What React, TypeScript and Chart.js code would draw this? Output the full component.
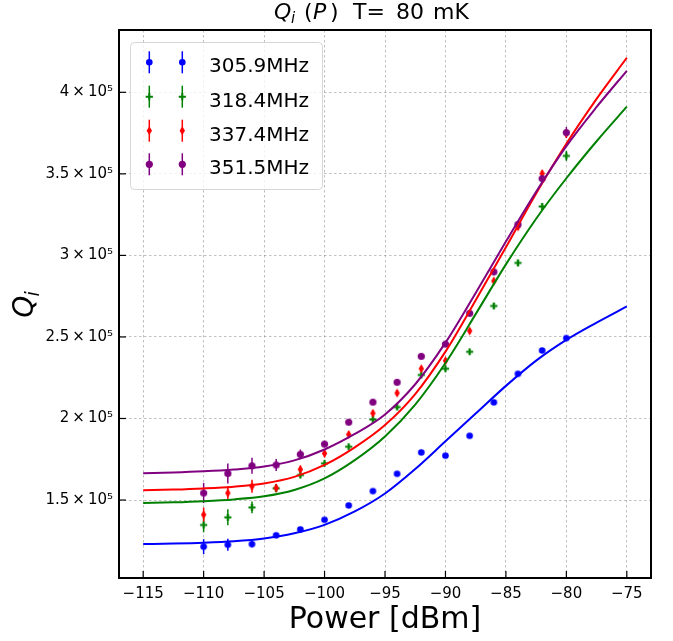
import React, { useEffect, useRef } from "react";
import { Chart, registerables } from "chart.js";

Chart.register(...registerables);

// ---------- data ----------
const powers = [-110, -108, -106, -104, -102, -100, -98, -96, -94, -92, -90, -88, -86, -84, -82, -80];

const seriesLabels = ["305.9MHz", "318.4MHz", "337.4MHz", "351.5MHz"];

const q305 = [121400, 122600, 123000, 128400, 132000, 137900, 146700, 155500, 166100, 179200, 177200, 189400, 209900, 227400, 241700, 249300];
const e305 = [4600, 3700, 2000, 1200, 1000, 900, 900, 900, 900, 900, 900, 900, 900, 900, 900, 900];

const q318 = [134700, 139400, 145500, 157200, 165300, 172500, 182700, 199400, 207000, 226700, 230500, 240900, 269000, 295400, 330000, 361000];
const e318 = [4400, 4900, 3600, 2400, 1800, 1800, 1500, 1500, 1500, 1500, 1500, 1500, 1800, 2000, 2000, 3000];

const q337 = [141000, 154300, 158400, 157400, 168800, 178600, 190200, 203200, 215600, 230500, 235400, 253700, 284300, 317500, 350200, 374800];
const e337 = [4400, 4300, 4000, 2400, 2400, 2400, 1800, 1800, 1800, 1800, 1800, 1800, 2000, 2000, 2000, 2500];

const q351 = [154300, 166300, 171000, 171500, 178000, 184300, 197700, 210000, 222200, 238100, 245600, 264500, 289900, 319000, 347100, 375300];
const e351 = [6100, 6100, 4900, 3700, 3000, 2000, 1800, 1800, 1800, 1800, 1800, 1800, 2000, 2000, 2500, 3400];

const fitPowers = [-115, -112.5, -110, -107.5, -105, -102.5, -100, -97.5, -95, -92.5, -90, -87.5, -85, -82.5, -80, -77.5, -75];
const fit305 = [123000, 123300, 123800, 124700, 126400, 129600, 134800, 143000, 154000, 169000, 186000, 203000, 220000, 235500, 248200, 258800, 268700];
const fit318 = [148200, 148600, 149300, 150400, 152300, 156200, 163300, 174500, 189000, 208500, 234000, 264000, 294500, 322500, 347300, 370000, 391200];
const fit337 = [156000, 156400, 157100, 158200, 160200, 164200, 171500, 182300, 196000, 215000, 241000, 272500, 305000, 338000, 368500, 396000, 421200];
const fit351 = [166500, 166900, 167600, 168700, 170500, 174300, 181000, 190500, 202500, 221000, 246500, 277000, 308500, 339000, 367000, 391000, 413200];

const xTickValues = [-115, -110, -105, -100, -95, -90, -85, -80, -75];
const xTickLabels = ["\u2212115", "\u2212110", "\u2212105", "\u2212100", "\u221295", "\u221290", "\u221285", "\u221280", "\u221275"];
const yTickValues = [150000, 200000, 250000, 300000, 350000, 400000];
const yTickLabels = [
  "1.5\u2009\u00d7\u200910\u2075",
  "2\u2009\u00d7\u200910\u2075",
  "2.5\u2009\u00d7\u200910\u2075",
  "3\u2009\u00d7\u200910\u2075",
  "3.5\u2009\u00d7\u200910\u2075",
  "4\u2009\u00d7\u200910\u2075",
];

const xLabel = "Power [dBm]";
const titleParts = [
  { text: "Q", italic: true, sub: false, x: 274 },
  { text: "i", italic: true, sub: true, x: 291 },
  { text: "(", italic: false, sub: false, x: 304 },
  { text: "P", italic: true, sub: false, x: 313 },
  { text: ")", italic: false, sub: false, x: 330 },
  { text: "T=", italic: false, sub: false, x: 353 },
  { text: "80", italic: false, sub: false, x: 396 },
  { text: "mK", italic: false, sub: false, x: 433 },
];

const colors = ["#0000ff", "#008000", "#ff0000", "#800080"];
const markerKinds = ["circle", "plus", "thinDiamond", "bigCircle"];
const seriesValues = [q305, q318, q337, q351];
const seriesErrors = [e305, e318, e337, e351];
const fitValues = [fit305, fit318, fit337, fit351];

const FONT = "'DejaVu Sans', sans-serif";

function drawMarker(ctx: CanvasRenderingContext2D, kind: string, x: number, y: number, color: string) {
  ctx.save();
  ctx.fillStyle = color;
  ctx.strokeStyle = color;
  if (kind === "circle" || kind === "bigCircle") {
    ctx.beginPath();
    ctx.arc(x, y, kind === "circle" ? 3.3 : 3.6, 0, Math.PI * 2);
    ctx.fill();
  } else if (kind === "plus") {
    ctx.lineWidth = 2;
    ctx.beginPath();
    ctx.moveTo(x - 3.6, y);
    ctx.lineTo(x + 3.6, y);
    ctx.moveTo(x, y - 3.6);
    ctx.lineTo(x, y + 3.6);
    ctx.stroke();
  } else if (kind === "thinDiamond") {
    ctx.beginPath();
    ctx.moveTo(x, y - 4.4);
    ctx.lineTo(x + 2.7, y);
    ctx.lineTo(x, y + 4.4);
    ctx.lineTo(x - 2.7, y);
    ctx.closePath();
    ctx.fill();
  }
  ctx.restore();
}

function markerCanvas(kind: string, color: string) {
  const c = document.createElement("canvas");
  c.width = 13;
  c.height = 13;
  const cx = c.getContext("2d");
  if (cx) drawMarker(cx, kind, 6.5, 6.5, color);
  return c;
}

const errorBarPlugin = {
  id: "errorBars",
  beforeDatasetsDraw(chart: any) {
    const { ctx, chartArea, scales } = chart;
    const xs = scales.x;
    const ys = scales.y;
    ctx.save();
    ctx.beginPath();
    ctx.rect(chartArea.left, chartArea.top, chartArea.right - chartArea.left, chartArea.bottom - chartArea.top);
    ctx.clip();
    ctx.lineWidth = 1.5;
    seriesValues.forEach((vals, s) => {
      ctx.strokeStyle = colors[s];
      vals.forEach((v, i) => {
        const px = xs.getPixelForValue(powers[i]);
        const y1 = ys.getPixelForValue(v - seriesErrors[s][i]);
        const y2 = ys.getPixelForValue(v + seriesErrors[s][i]);
        ctx.beginPath();
        ctx.moveTo(px, y1);
        ctx.lineTo(px, y2);
        ctx.stroke();
      });
    });
    ctx.restore();
  },
};

const decorPlugin = {
  id: "decor",
  afterDatasetsDraw(chart: any) {
    const { ctx } = chart;
    // legend
    const bx = 130.5, by = 42.5, bw = 192, bh = 147, r = 4;
    ctx.save();
    ctx.beginPath();
    ctx.moveTo(bx + r, by);
    ctx.lineTo(bx + bw - r, by);
    ctx.quadraticCurveTo(bx + bw, by, bx + bw, by + r);
    ctx.lineTo(bx + bw, by + bh - r);
    ctx.quadraticCurveTo(bx + bw, by + bh, bx + bw - r, by + bh);
    ctx.lineTo(bx + r, by + bh);
    ctx.quadraticCurveTo(bx, by + bh, bx, by + bh - r);
    ctx.lineTo(bx, by + r);
    ctx.quadraticCurveTo(bx, by, bx + r, by);
    ctx.closePath();
    ctx.fillStyle = "rgba(255,255,255,0.8)";
    ctx.fill();
    ctx.strokeStyle = "#d6d6d6";
    ctx.lineWidth = 1;
    ctx.stroke();
    const rows = [62.3, 96.7, 130.7, 164.3];
    seriesLabels.forEach((lab, s) => {
      const ry = rows[s];
      [149.3, 182.3].forEach((mx) => {
        ctx.strokeStyle = colors[s];
        ctx.lineWidth = 1.5;
        ctx.beginPath();
        ctx.moveTo(mx, ry - 11);
        ctx.lineTo(mx, ry + 11);
        ctx.stroke();
        drawMarker(ctx, markerKinds[s], mx, ry, colors[s]);
      });
      ctx.fillStyle = "#000";
      ctx.font = `20px ${FONT}`;
      ctx.textAlign = "left";
      ctx.textBaseline = "alphabetic";
      ctx.fillText(lab, 209, ry + 10);
    });
    ctx.restore();
  },
  afterDraw(chart: any) {
    const { ctx, chartArea, scales } = chart;
    const { left, right, top, bottom } = chartArea;
    ctx.save();
    // inward ticks
    ctx.strokeStyle = "#000";
    ctx.lineWidth = 1.2;
    xTickValues.forEach((v) => {
      const px = scales.x.getPixelForValue(v);
      ctx.beginPath();
      ctx.moveTo(px, bottom);
      ctx.lineTo(px, bottom - 7);
      ctx.stroke();
    });
    yTickValues.forEach((v) => {
      const py = scales.y.getPixelForValue(v);
      ctx.beginPath();
      ctx.moveTo(left, py);
      ctx.lineTo(left + 7, py);
      ctx.stroke();
    });
    // frame
    ctx.lineWidth = 2;
    ctx.strokeRect(left, top, right - left, bottom - top);

    // title
    ctx.fillStyle = "#000";
    ctx.textAlign = "left";
    ctx.textBaseline = "alphabetic";
    titleParts.forEach((p) => {
      ctx.font = `${p.italic ? "italic " : ""}${p.sub ? 15 : 22}px ${FONT}`;
      ctx.fillText(p.text, p.x, p.sub ? 23 : 19);
    });

    // x label
    ctx.font = `30px ${FONT}`;
    ctx.textAlign = "center";
    ctx.fillText(xLabel, (left + right) / 2, 628);

    // y label (rotated)
    ctx.save();
    ctx.translate(33, (top + bottom) / 2);
    ctx.rotate(-Math.PI / 2);
    ctx.textAlign = "left";
    ctx.font = `italic 28px ${FONT}`;
    const qw = ctx.measureText("Q").width;
    ctx.font = `italic 19px ${FONT}`;
    const iw = ctx.measureText("i").width;
    const start = -(qw + iw) / 2;
    ctx.font = `italic 28px ${FONT}`;
    ctx.fillText("Q", start, 0);
    ctx.font = `italic 19px ${FONT}`;
    ctx.fillText("i", start + qw - 1, 6);
    ctx.restore();
    ctx.restore();
  },
};

export default function App() {
  const canvasRef = useRef<HTMLCanvasElement | null>(null);

  useEffect(() => {
    if (!canvasRef.current) return;
    const pointSets = seriesValues.map((vals, s) => ({
      label: seriesLabels[s],
      data: vals.map((v, i) => ({ x: powers[i], y: v })),
      pointStyle: markerCanvas(markerKinds[s], colors[s]),
      pointRadius: 4,
      showLine: false,
      borderColor: colors[s],
      backgroundColor: colors[s],
      order: 20 - s,
    }));
    const lineSets = fitValues.map((vals, s) => ({
      label: seriesLabels[s] + " fit",
      data: vals.map((v, i) => ({ x: fitPowers[i], y: v })),
      showLine: true,
      pointRadius: 0,
      borderColor: colors[s],
      backgroundColor: colors[s],
      borderWidth: 2,
      cubicInterpolationMode: "monotone",
      fill: false,
      order: 10 - s,
    }));

    const chart = new Chart(canvasRef.current, {
      type: "scatter",
      data: { datasets: [...pointSets, ...lineSets] as any },
      options: {
        animation: false,
        responsive: false,
        maintainAspectRatio: false,
        events: [],
        layout: { padding: { top: 30, right: 22, left: 0, bottom: 0 } },
        plugins: {
          legend: { display: false },
          title: { display: false },
          tooltip: { enabled: false },
        },
        scales: {
          x: {
            type: "linear",
            min: -117,
            max: -73,
            afterBuildTicks: (s: any) => {
              s.ticks = xTickValues.map((v) => ({ value: v }));
            },
            afterFit: (s: any) => {
              s.height = 63;
            },
            ticks: {
              callback: (_v: any, i: number) => xTickLabels[i],
              font: { family: FONT, size: 15 },
              color: "#000",
              padding: 7,
              maxRotation: 0,
              autoSkip: false,
            },
            grid: { color: "rgba(110,110,110,0.55)", lineWidth: 0.8, drawTicks: false },
            border: { display: false, dash: [2.5, 2.5] },
          },
          y: {
            type: "linear",
            min: 102200,
            max: 438200,
            afterBuildTicks: (s: any) => {
              s.ticks = yTickValues.map((v) => ({ value: v }));
            },
            afterFit: (s: any) => {
              s.width = 119;
            },
            ticks: {
              callback: (_v: any, i: number) => yTickLabels[i],
              font: { family: FONT, size: 15 },
              color: "#000",
              padding: 6,
              autoSkip: false,
            },
            grid: { color: "rgba(110,110,110,0.55)", lineWidth: 0.8, drawTicks: false },
            border: { display: false, dash: [2.5, 2.5] },
          },
        },
      } as any,
      plugins: [errorBarPlugin, decorPlugin],
    });
    return () => chart.destroy();
  }, []);

  return (
    <div style={{ position: "absolute", left: 0, top: 0, width: 673, height: 641, background: "#fff" }}>
      <canvas ref={canvasRef} width={673} height={641} style={{ display: "block", width: 673, height: 641 }} />
    </div>
  );
}
